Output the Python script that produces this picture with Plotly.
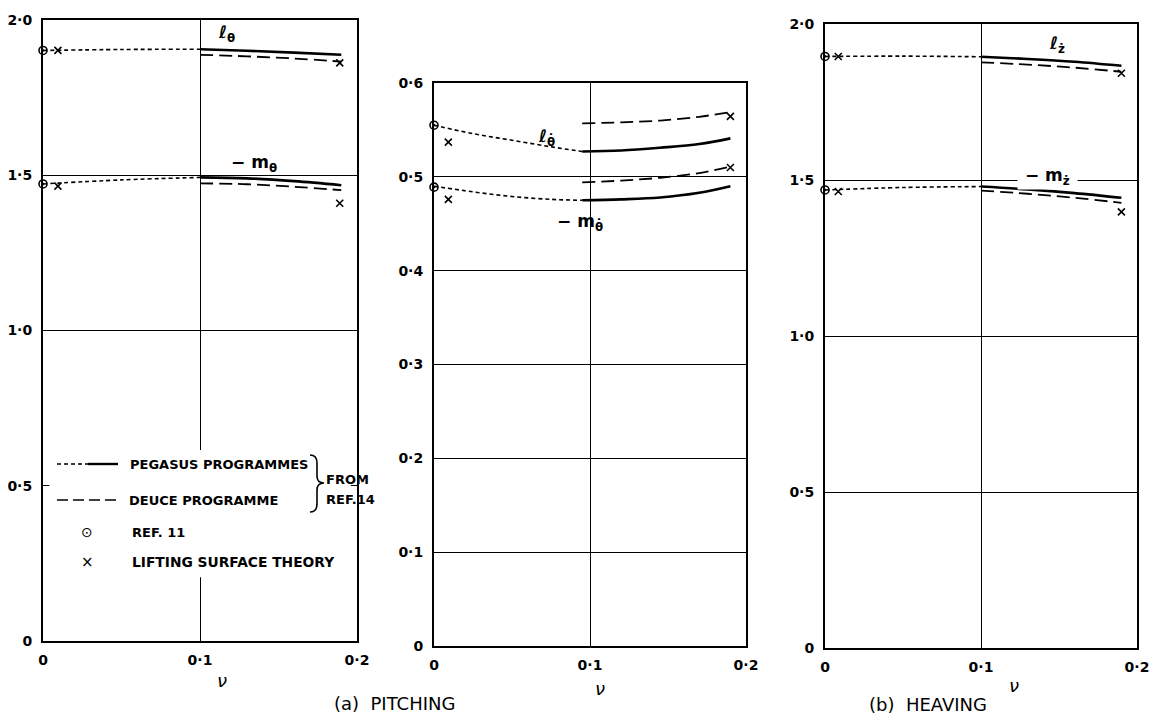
import plotly.graph_objects as go

# page offset (browser body margin) compensation
OFF = 8
W, H = 1164 - 2 * OFF, 728 - 2 * OFF

# ---------------- data ----------------
# (a) Pitching, left panel: l_theta and -m_theta
nu_dot = [0.0, 0.05, 0.1]
nu_sol = [0.1, 0.13, 0.16, 0.19]
l_th_dot = [1.902, 1.905, 1.906]
l_th_peg = [1.906, 1.901, 1.895, 1.888]
l_th_deu = [1.888, 1.883, 1.876, 1.866]
m_th_dot = [1.472, 1.485, 1.493]
m_th_peg = [1.493, 1.490, 1.481, 1.468]
m_th_deu = [1.474, 1.471, 1.463, 1.452]
ref11_nu = [0.0]
l_th_ref11 = [1.902]
m_th_ref11 = [1.472]
lst_nu = [0.0095, 0.189]
l_th_lst = [1.902, 1.862]
m_th_lst = [1.465, 1.41]

# (a) Pitching, middle panel: l_theta_dot and -m_theta_dot
nu_dot_m = [0.0, 0.025, 0.05, 0.075, 0.095]
nu_sol_m = [0.095, 0.12, 0.145, 0.17, 0.19]
ld_th_dot = [0.555, 0.546, 0.539, 0.532, 0.527]
ld_th_peg = [0.527, 0.528, 0.531, 0.535, 0.541]
ld_th_deu = [0.557, 0.558, 0.560, 0.564, 0.569]
md_th_dot = [0.490, 0.484, 0.479, 0.476, 0.475]
md_th_peg = [0.475, 0.476, 0.478, 0.483, 0.490]
md_th_deu = [0.494, 0.496, 0.499, 0.504, 0.511]
ld_th_ref11 = [0.555]
md_th_ref11 = [0.489]
lst_nu_m = [0.0092, 0.19]
ld_th_lst = [0.537, 0.5645]
md_th_lst = [0.476, 0.510]

# (b) Heaving, right panel: l_zdot and -m_zdot
l_z_dot = [1.896, 1.897, 1.895]
l_z_peg = [1.895, 1.888, 1.879, 1.866]
l_z_deu = [1.877, 1.870, 1.860, 1.847]
m_z_dot = [1.468, 1.476, 1.479]
m_z_peg = [1.479, 1.470, 1.458, 1.443]
m_z_deu = [1.466, 1.456, 1.443, 1.427]
l_z_ref11 = [1.896]
m_z_ref11 = [1.468]
lst_nu_r = [0.0085, 0.19]
l_z_lst = [1.896, 1.842]
m_z_lst = [1.463, 1.398]

x_ticks = [0, 0.1, 0.2]
x_ticktext = ["0", "0·1", "0·2"]
y_ticks_lr = [0, 0.5, 1.0, 1.5, 2.0]
y_ticktext_lr = ["0", "0·5", "1·0", "1·5", "2·0"]
y_ticks_m = [0, 0.1, 0.2, 0.3, 0.4, 0.5, 0.6]
y_ticktext_m = ["0", "0·1", "0·2", "0·3", "0·4", "0·5", "0·6"]

# ---------------- figure ----------------
FONT = "DejaVu Sans"
fig = go.Figure()

def px(x):
    return (x - OFF) / W

def py(y):
    return 1 - (y - OFF) / H

def add_panel(xa, ya, nd, ns, dot_list, peg_list, deu_list, ref_nu, ref_list, lst_x, lst_list):
    for d in dot_list:
        fig.add_trace(go.Scatter(x=nd, y=d, mode="lines", xaxis=xa, yaxis=ya,
                                 line=dict(color="black", width=1.6, dash="4px,3px", shape="spline"),
                                 showlegend=False, hoverinfo="skip"))
    for p in peg_list:
        fig.add_trace(go.Scatter(x=ns, y=p, mode="lines", xaxis=xa, yaxis=ya,
                                 line=dict(color="black", width=2.6, shape="spline"),
                                 showlegend=False, hoverinfo="skip"))
    for d in deu_list:
        fig.add_trace(go.Scatter(x=ns, y=d, mode="lines", xaxis=xa, yaxis=ya,
                                 line=dict(color="black", width=1.8, dash="13px,6px", shape="spline"),
                                 showlegend=False, hoverinfo="skip"))
    for r in ref_list:
        fig.add_trace(go.Scatter(x=ref_nu, y=r, mode="markers", xaxis=xa, yaxis=ya,
                                 marker=dict(symbol="circle-open-dot", size=8, color="black",
                                             line=dict(width=1.6, color="black")),
                                 showlegend=False, hoverinfo="skip", cliponaxis=False))
    for l in lst_list:
        fig.add_trace(go.Scatter(x=lst_x, y=l, mode="markers", xaxis=xa, yaxis=ya,
                                 marker=dict(symbol="x-thin-open", size=7, color="black",
                                             line=dict(width=1.6, color="black")),
                                 showlegend=False, hoverinfo="skip", cliponaxis=False))

add_panel("x", "y", nu_dot, nu_sol, [l_th_dot, m_th_dot], [l_th_peg, m_th_peg],
          [l_th_deu, m_th_deu], ref11_nu, [l_th_ref11, m_th_ref11], lst_nu, [l_th_lst, m_th_lst])
add_panel("x2", "y2", nu_dot_m, nu_sol_m, [ld_th_dot, md_th_dot], [ld_th_peg, md_th_peg],
          [ld_th_deu, md_th_deu], ref11_nu, [ld_th_ref11, md_th_ref11], lst_nu_m, [ld_th_lst, md_th_lst])
add_panel("x3", "y3", nu_dot, nu_sol, [l_z_dot, m_z_dot], [l_z_peg, m_z_peg],
          [l_z_deu, m_z_deu], ref11_nu, [l_z_ref11, m_z_ref11], lst_nu_r, [l_z_lst, m_z_lst])

tickfont = dict(family=FONT, size=14, color="black", weight="bold")

def xaxis_cfg(dom, anchor):
    return dict(domain=dom, anchor=anchor, range=[0, 0.2], tickvals=x_ticks, ticktext=x_ticktext,
                showline=True, mirror=True, linecolor="black", linewidth=2,
                showgrid=True, gridcolor="black", gridwidth=1.2, zeroline=False, automargin=False,
                ticks="", tickfont=tickfont, ticklabelstandoff=5, fixedrange=True)

def yaxis_cfg(dom, anchor, rng, tv, tt):
    return dict(domain=dom, anchor=anchor, range=rng, tickvals=tv, ticktext=tt,
                showline=True, mirror=True, linecolor="black", linewidth=2,
                showgrid=True, gridcolor="black", gridwidth=1.2, zeroline=False, automargin=False,
                ticks="", tickfont=tickfont, ticklabelstandoff=6, fixedrange=True)

fig.update_layout(
    width=W, height=H, margin=dict(l=0, r=0, t=0, b=0, autoexpand=False),
    paper_bgcolor="white", plot_bgcolor="white", showlegend=False,
    xaxis=xaxis_cfg([px(43), px(357)], "y"),
    yaxis=yaxis_cfg([py(641), py(20)], "x", [0, 2.0], y_ticks_lr, y_ticktext_lr),
    xaxis2=xaxis_cfg([px(434), px(746)], "y2"),
    yaxis2=yaxis_cfg([py(646), py(83)], "x2", [0, 0.6], y_ticks_m, y_ticktext_m),
    xaxis3=xaxis_cfg([px(825), px(1137)], "y3"),
    yaxis3=yaxis_cfg([py(648), py(24)], "x3", [0, 2.0], y_ticks_lr, y_ticktext_lr),
)

# white box behind the legend (interrupts grid lines as in the original)
fig.add_shape(type="rect", xref="x", yref="y", x0=0.004, x1=0.196, y0=0.205, y1=0.615,
              fillcolor="white", line=dict(width=0), layer="above")

# legend samples
def P(x, y):
    return f"{px(x)},{py(y)}"

shapes = [
    dict(type="line", xref="paper", yref="paper", x0=px(57), x1=px(88), y0=py(464), y1=py(464),
         line=dict(color="black", width=1.6, dash="4px,3px")),
    dict(type="line", xref="paper", yref="paper", x0=px(88), x1=px(118), y0=py(464), y1=py(464),
         line=dict(color="black", width=2.4)),
    dict(type="line", xref="paper", yref="paper", x0=px(57), x1=px(118), y0=py(500), y1=py(500),
         line=dict(color="black", width=1.6, dash="11px,5px")),
    dict(type="path", xref="paper", yref="paper",
         path=f"M{P(310,455)} Q{P(317,455)} {P(317,463)} L{P(317,476)} Q{P(317,483)} {P(324,483)} "
              f"Q{P(317,483)} {P(317,490)} L{P(317,504)} Q{P(317,512)} {P(310,512)}",
         line=dict(color="black", width=1.6)),
]
for s in shapes:
    fig.add_shape(layer="above", **s)

lfont = dict(family=FONT, size=13, color="black", weight="bold")
ann = [
    dict(x=px(128), y=py(464), text="PEGASUS PROGRAMMES", xanchor="left"),
    dict(x=px(127), y=py(500), text="DEUCE PROGRAMME", xanchor="left"),
    dict(x=px(130), y=py(532), text="REF. 11", xanchor="left"),
    dict(x=px(130), y=py(562), text="LIFTING SURFACE THEORY", xanchor="left",
         font=dict(family=FONT, size=13.8, color="black", weight="bold")),
    dict(x=px(324), y=py(479), text="FROM", xanchor="left"),
    dict(x=px(324), y=py(499), text="REF.14", xanchor="left"),
    dict(x=px(87), y=py(532), text="⊙", xanchor="center", font=dict(family=FONT, size=14, color="black")),
    dict(x=px(87), y=py(562), text="×", xanchor="center", font=dict(family=FONT, size=15, color="black")),
]
for a in ann:
    a.setdefault("font", lfont)
    fig.add_annotation(xref="paper", yref="paper", showarrow=False, yanchor="middle", **a)

# curve labels
cfont = dict(family=FONT, size=17, color="black", weight="bold")
curve_ann = [
    dict(x=px(226), y=py(33), text="ℓ<sub>θ</sub>"),
    dict(x=px(254), y=py(163), text="− m<sub>θ</sub>"),
    dict(x=px(546), y=py(137), text="ℓ<sub>θ̇</sub>"),
    dict(x=px(580), y=py(222), text="− m<sub>θ̇</sub>"),
    dict(x=px(1057), y=py(44), text="ℓ<sub>ż</sub>"),
    dict(x=px(1047), y=py(176), text="&nbsp;− m<sub>ż</sub>&nbsp;", bgcolor="white"),
]
for a in curve_ann:
    fig.add_annotation(xref="paper", yref="paper", showarrow=False, xanchor="center",
                       yanchor="middle", font=cfont, **a)

# axis titles and captions
tfont = dict(family=FONT, size=18, color="black")
for x, y in [(222, 680), (600, 688), (1014, 685)]:
    fig.add_annotation(xref="paper", yref="paper", x=px(x), y=py(y), text="<i>ν</i>",
                       showarrow=False, font=tfont, xanchor="center", yanchor="middle")
capfont = dict(family=FONT, size=18, color="black")
fig.add_annotation(xref="paper", yref="paper", x=px(394), y=py(703), text="(a)  PITCHING",
                   showarrow=False, font=capfont, xanchor="center", yanchor="middle")
fig.add_annotation(xref="paper", yref="paper", x=px(928), y=py(704), text="(b)  HEAVING",
                   showarrow=False, font=capfont, xanchor="center", yanchor="middle")

fig.write_html("out.html")
